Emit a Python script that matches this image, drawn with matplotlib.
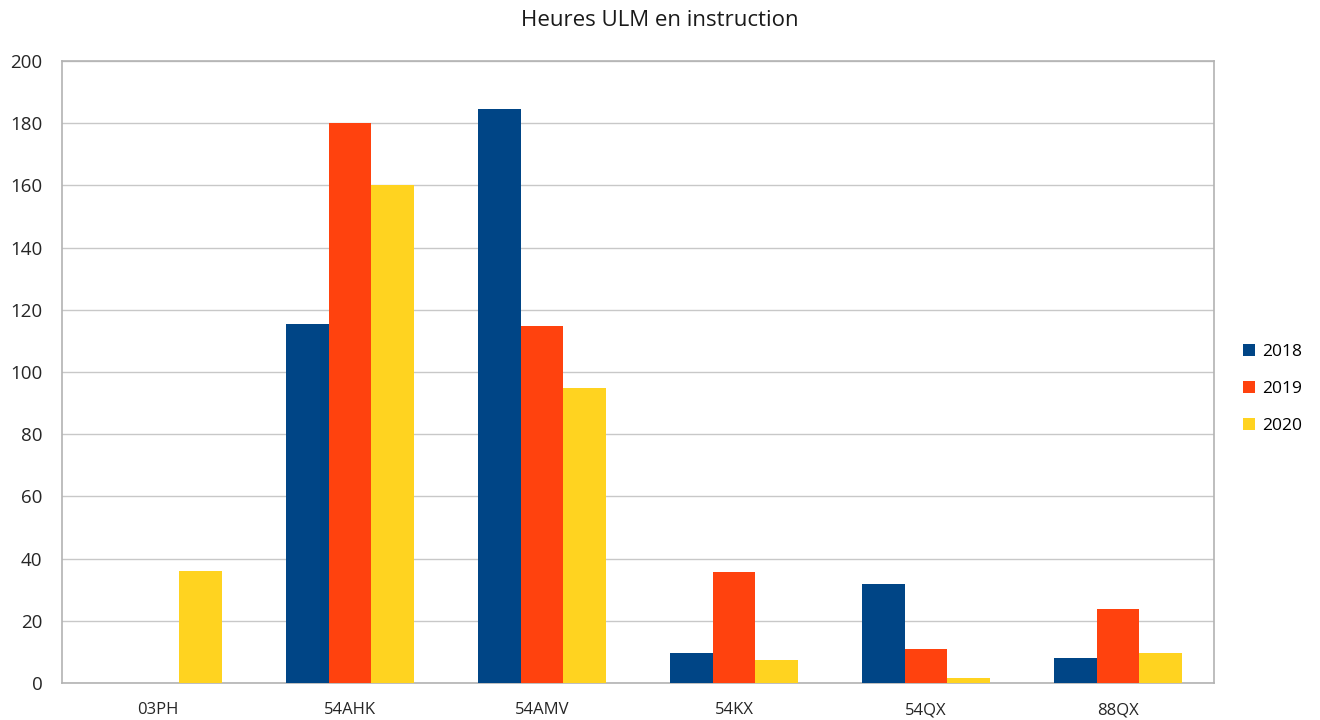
import numpy as np
import matplotlib
matplotlib.use("Agg")
import matplotlib.pyplot as plt
from matplotlib.patches import Patch

plt.rcParams["font.family"] = ["Open Sans", "DejaVu Sans"]

# data
categories = ["03PH", "54AHK", "54AMV", "54KX", "54QX", "88QX"]
years = ["2018", "2019", "2020"]
h2018 = [0, 115.5, 184.6, 9.6, 31.9, 8.1]
h2019 = [0, 180.2, 114.8, 35.6, 10.9, 23.9]
h2020 = [36, 160.1, 94.9, 7.5, 1.7, 9.6]
colors = ["#004586", "#ff420e", "#ffd320"]

fig = plt.figure(figsize=(13.2, 7.2), dpi=100)
ax = fig.add_axes([0.047, 0.0514, 0.8727, 0.8639])

x = np.arange(len(categories))
w = 2 / 9
for k, (vals, c, yr) in enumerate(zip([h2018, h2019, h2020], colors, years)):
    ax.bar(x + (k - 1) * w, vals, width=w, color=c, label=yr, zorder=3)

ax.set_xlim(-0.5, len(categories) - 0.5)
ax.set_ylim(0, 200)
ax.set_yticks(range(0, 201, 20))
ax.set_xticks(x)
ax.set_xticklabels(categories)
ax.tick_params(length=0, labelsize=12, colors="#262626")
ax.tick_params(axis="x", pad=14)
ax.tick_params(axis="y", pad=14, labelsize=13.5)
ax.grid(axis="y", color="#c8c8c8", lw=1, zorder=0)
for s in ax.spines.values():
    s.set_color("#b3b3b3")
    s.set_linewidth(1.2)

# title is centred on the whole figure, not the plot area
fig.text(0.5, 1 - 21 / 720, "Heures ULM en instruction", fontsize=16,
         color="#1a1a1a", ha="center", va="center")

handles = [Patch(facecolor=c, label=yr) for c, yr in zip(colors, years)]
fig.legend(handles=handles, loc="center left", bbox_to_anchor=(0.93, 0.46),
           frameon=False, fontsize=12.5, handlelength=0.7, handleheight=0.7,
           labelspacing=1.2, handletextpad=0.4)

fig.savefig("out.png", dpi=100)
